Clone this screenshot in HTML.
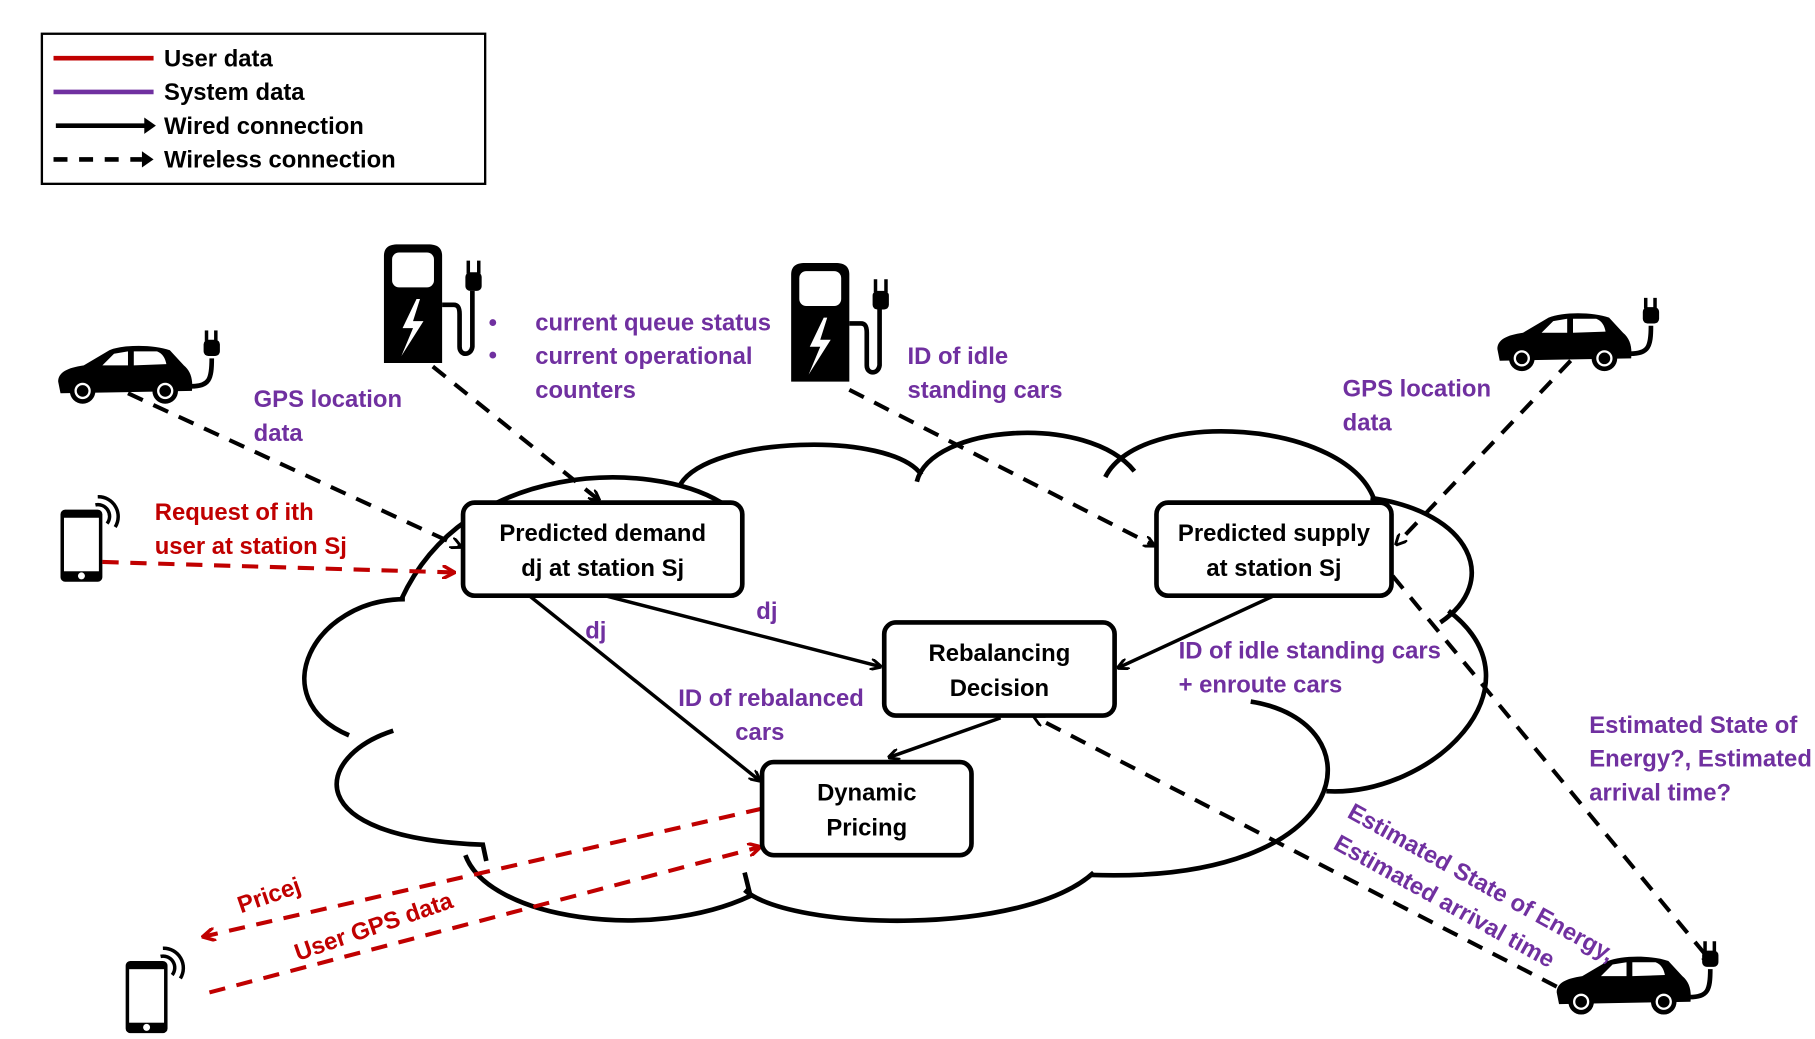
<!DOCTYPE html>
<html><head><meta charset="utf-8"><style>
html,body{margin:0;padding:0;background:#fff;}
svg{display:block;}
text{font-family:"Liberation Sans",sans-serif;font-weight:bold;font-size:20.5px;}
.p{fill:#7030A0;} .r{fill:#C00000;} .k{fill:#000;}
</style></head><body>
<svg width="1815" height="1039" viewBox="0 0 1560 893" xmlns="http://www.w3.org/2000/svg">
<defs>
<marker id="ak" markerWidth="10" markerHeight="10" refX="9" refY="5" orient="auto" markerUnits="userSpaceOnUse" viewBox="0 0 10 10"><path d="M0,0 L10,5 L0,10" fill="none" stroke="#000" stroke-width="2.5"/></marker>
<marker id="ar" markerWidth="12" markerHeight="12" refX="10" refY="6" orient="auto" markerUnits="userSpaceOnUse" viewBox="0 0 12 12"><path d="M0,0 L11,6 L0,12" fill="none" stroke="#C00000" stroke-width="3"/></marker>
<g id="car">
<path d="M0,30 C0,22 8,18 22,16 L44,3 C56,-2 82,-2 96,3 L108,16 C114,21 116,28 115,38 L2,40 Z" fill="#000"/>
<path d="M48,6 L60,4 L60,16 L38,16 Z M65,4 L85,4 C90,6 92,10 93,15 L65,16 Z" fill="#fff"/>
<circle cx="21" cy="38" r="11" fill="#000"/><circle cx="21" cy="38" r="7" fill="#fff"/><circle cx="21" cy="38" r="5" fill="#000"/>
<circle cx="92" cy="38" r="11" fill="#000"/><circle cx="92" cy="38" r="7" fill="#fff"/><circle cx="92" cy="38" r="5" fill="#000"/>
<path d="M114,34 C130,34 132,28 132,10" fill="none" stroke="#000" stroke-width="4"/>
<rect x="125" y="-6" width="14" height="14" rx="4" fill="#000"/>
<rect x="126" y="-14" width="3" height="9" fill="#000"/><rect x="134" y="-14" width="3" height="9" fill="#000"/>
</g>
<g id="station">
<path d="M0,10 C0,3 4,0 12,0 L38,0 C46,0 50,3 50,10 L50,102 L0,102 Z" fill="#000"/>
<rect x="7" y="7" width="36" height="30" rx="6" fill="#fff"/>
<path d="M28,47 L16,72 L25,72 L15,96 L34,66 L25,66 L31,47 Z" fill="#fff"/>
<path d="M50,52 L60,52 C64,52 65,55 65,60 L65,88 C65,96 75,96 76,88 L76,40" fill="none" stroke="#000" stroke-width="4"/>
<rect x="70" y="24" width="14" height="16" rx="4" fill="#000"/>
<rect x="71" y="14" width="3" height="11" fill="#000"/><rect x="80" y="14" width="3" height="11" fill="#000"/>
</g>
<g id="phone">
<rect x="0" y="10" width="36" height="62" rx="4" fill="#000"/>
<rect x="3" y="17" width="30" height="46" fill="#fff"/>
<circle cx="18" cy="67" r="3" fill="#fff"/>
<path d="M30,6 A10,10 0 0 1 40,22 M32,-1 A17,17 0 0 1 47,25" fill="none" stroke="#000" stroke-width="3"/>
</g>
</defs>

<rect x="36" y="29" width="381" height="129" fill="#fff" stroke="#000" stroke-width="2"/>
<line x1="46" y1="50" x2="132" y2="50" stroke="#C00000" stroke-width="4"/>
<line x1="46" y1="79" x2="132" y2="79" stroke="#7030A0" stroke-width="4"/>
<line x1="48" y1="108" x2="126" y2="108" stroke="#000" stroke-width="4"/>
<path d="M124,101 L134,108 L124,115 Z"/>
<line x1="46" y1="137" x2="122" y2="137" stroke="#000" stroke-width="4" stroke-dasharray="12,10"/>
<path d="M122,130 L132,137 L122,144 Z"/>
<text x="141" y="57" class="k">User data</text>
<text x="141" y="86" class="k">System data</text>
<text x="141" y="115" class="k">Wired connection</text>
<text x="141" y="144" class="k">Wireless connection</text>

<g fill="none" stroke="#000" stroke-width="4">
<path d="M348,515 C270,515 225,600 300,632"/>
<path d="M338,628 C270,650 255,720 415,726 L418,740"/>
<path d="M400,735 C420,790 560,810 645,770 L640,750"/>
<path d="M640,765 C680,800 880,805 940,750"/>
<path d="M938,752 C1170,760 1185,620 1075,603"/>
<path d="M1140,680 C1230,685 1330,590 1245,525"/>
<path d="M1238,535 C1290,500 1265,440 1178,428"/>
<path d="M1182,432 C1160,360 980,350 950,410"/>
<path d="M975,405 C935,355 800,365 788,414"/>
<path d="M792,408 C765,370 610,375 585,416"/>
<path d="M620,432 C560,395 400,395 345,515"/>
</g>

<use href="#car" x="50" y="298"/>
<use href="#car" x="1287" y="270"/>
<use href="#car" x="1338" y="823"/>
<use href="#station" x="330" y="210"/>
<use href="#station" x="680" y="226"/>
<use href="#phone" x="52" y="428"/>
<use href="#phone" x="108" y="816"/>

<g stroke="#000" stroke-width="3.5" stroke-dasharray="14,10" fill="none">
<line x1="110" y1="338" x2="396" y2="470" marker-end="url(#ak)"/>
<line x1="372" y1="315" x2="515" y2="430" marker-end="url(#ak)"/>
<line x1="730" y1="335" x2="992" y2="469" marker-end="url(#ak)"/>
<line x1="1350" y1="310" x2="1200" y2="468" marker-end="url(#ak)"/>
<line x1="1197" y1="495" x2="1472" y2="828" marker-end="url(#ak)"/>
<line x1="1338" y1="848" x2="889" y2="616" marker-end="url(#ak)"/>
</g>
<g stroke="#C00000" stroke-width="3.5" stroke-dasharray="14,10" fill="none">
<line x1="88" y1="483" x2="390" y2="492" marker-end="url(#ar)"/>
<line x1="655" y1="695" x2="175" y2="805" marker-end="url(#ar)"/>
<line x1="180" y1="853" x2="653" y2="728" marker-end="url(#ar)"/>
</g>

<g fill="#fff" stroke="#000" stroke-width="4">
<rect x="398" y="432" width="240" height="80" rx="10"/>
<rect x="994" y="432" width="202" height="80" rx="10"/>
<rect x="760" y="535" width="198" height="80" rx="10"/>
<rect x="655" y="655" width="180" height="80" rx="10"/>
</g>
<g text-anchor="middle" class="k">
<text x="518" y="465">Predicted demand</text>
<text x="518" y="495">dj at station Sj</text>
<text x="1095" y="465">Predicted supply</text>
<text x="1095" y="495">at station Sj</text>
<text x="859" y="568">Rebalancing</text>
<text x="859" y="598">Decision</text>
<text x="745" y="688">Dynamic</text>
<text x="745" y="718">Pricing</text>
</g>

<g stroke="#000" stroke-width="3" fill="none">
<line x1="455" y1="512" x2="653" y2="671" marker-end="url(#ak)"/>
<line x1="520" y1="512" x2="757" y2="573" marker-end="url(#ak)"/>
<line x1="1095" y1="512" x2="961" y2="574" marker-end="url(#ak)"/>
<line x1="860" y1="617" x2="764" y2="651" marker-end="url(#ak)"/>
</g>

<text x="218" y="350" class="p">GPS location</text>
<text x="218" y="379" class="p">data</text>
<text x="420" y="284" class="p">•</text>
<text x="420" y="312" class="p">•</text>
<text x="460" y="284" class="p">current queue status</text>
<text x="460" y="313" class="p">current operational</text>
<text x="460" y="342" class="p">counters</text>
<text x="780" y="313" class="p">ID of idle</text>
<text x="780" y="342" class="p">standing cars</text>
<text x="1154" y="341" class="p">GPS location</text>
<text x="1154" y="370" class="p">data</text>
<text x="133" y="447" class="r">Request of ith</text>
<text x="133" y="476" class="r">user at station Sj</text>
<text x="650" y="532" class="p">dj</text>
<text x="503" y="549" class="p">dj</text>
<text x="583" y="607" class="p">ID of rebalanced</text>
<text x="632" y="636" class="p">cars</text>
<text x="1013" y="566" class="p">ID of idle standing cars</text>
<text x="1013" y="595" class="p">+ enroute cars</text>
<text x="1366" y="630" class="p">Estimated State of</text>
<text x="1366" y="659" class="p">Energy?, Estimated</text>
<text x="1366" y="688" class="p">arrival time?</text>
<text class="p" transform="translate(1157,702) rotate(29)">Estimated State of Energy,</text>
<text class="p" transform="translate(1145,729) rotate(29)">Estimated arrival time</text>
<text class="r" transform="translate(207,785) rotate(-19)">Pricej</text>
<text class="r" transform="translate(256,826) rotate(-19)">User GPS data</text>
</svg>
</body></html>
